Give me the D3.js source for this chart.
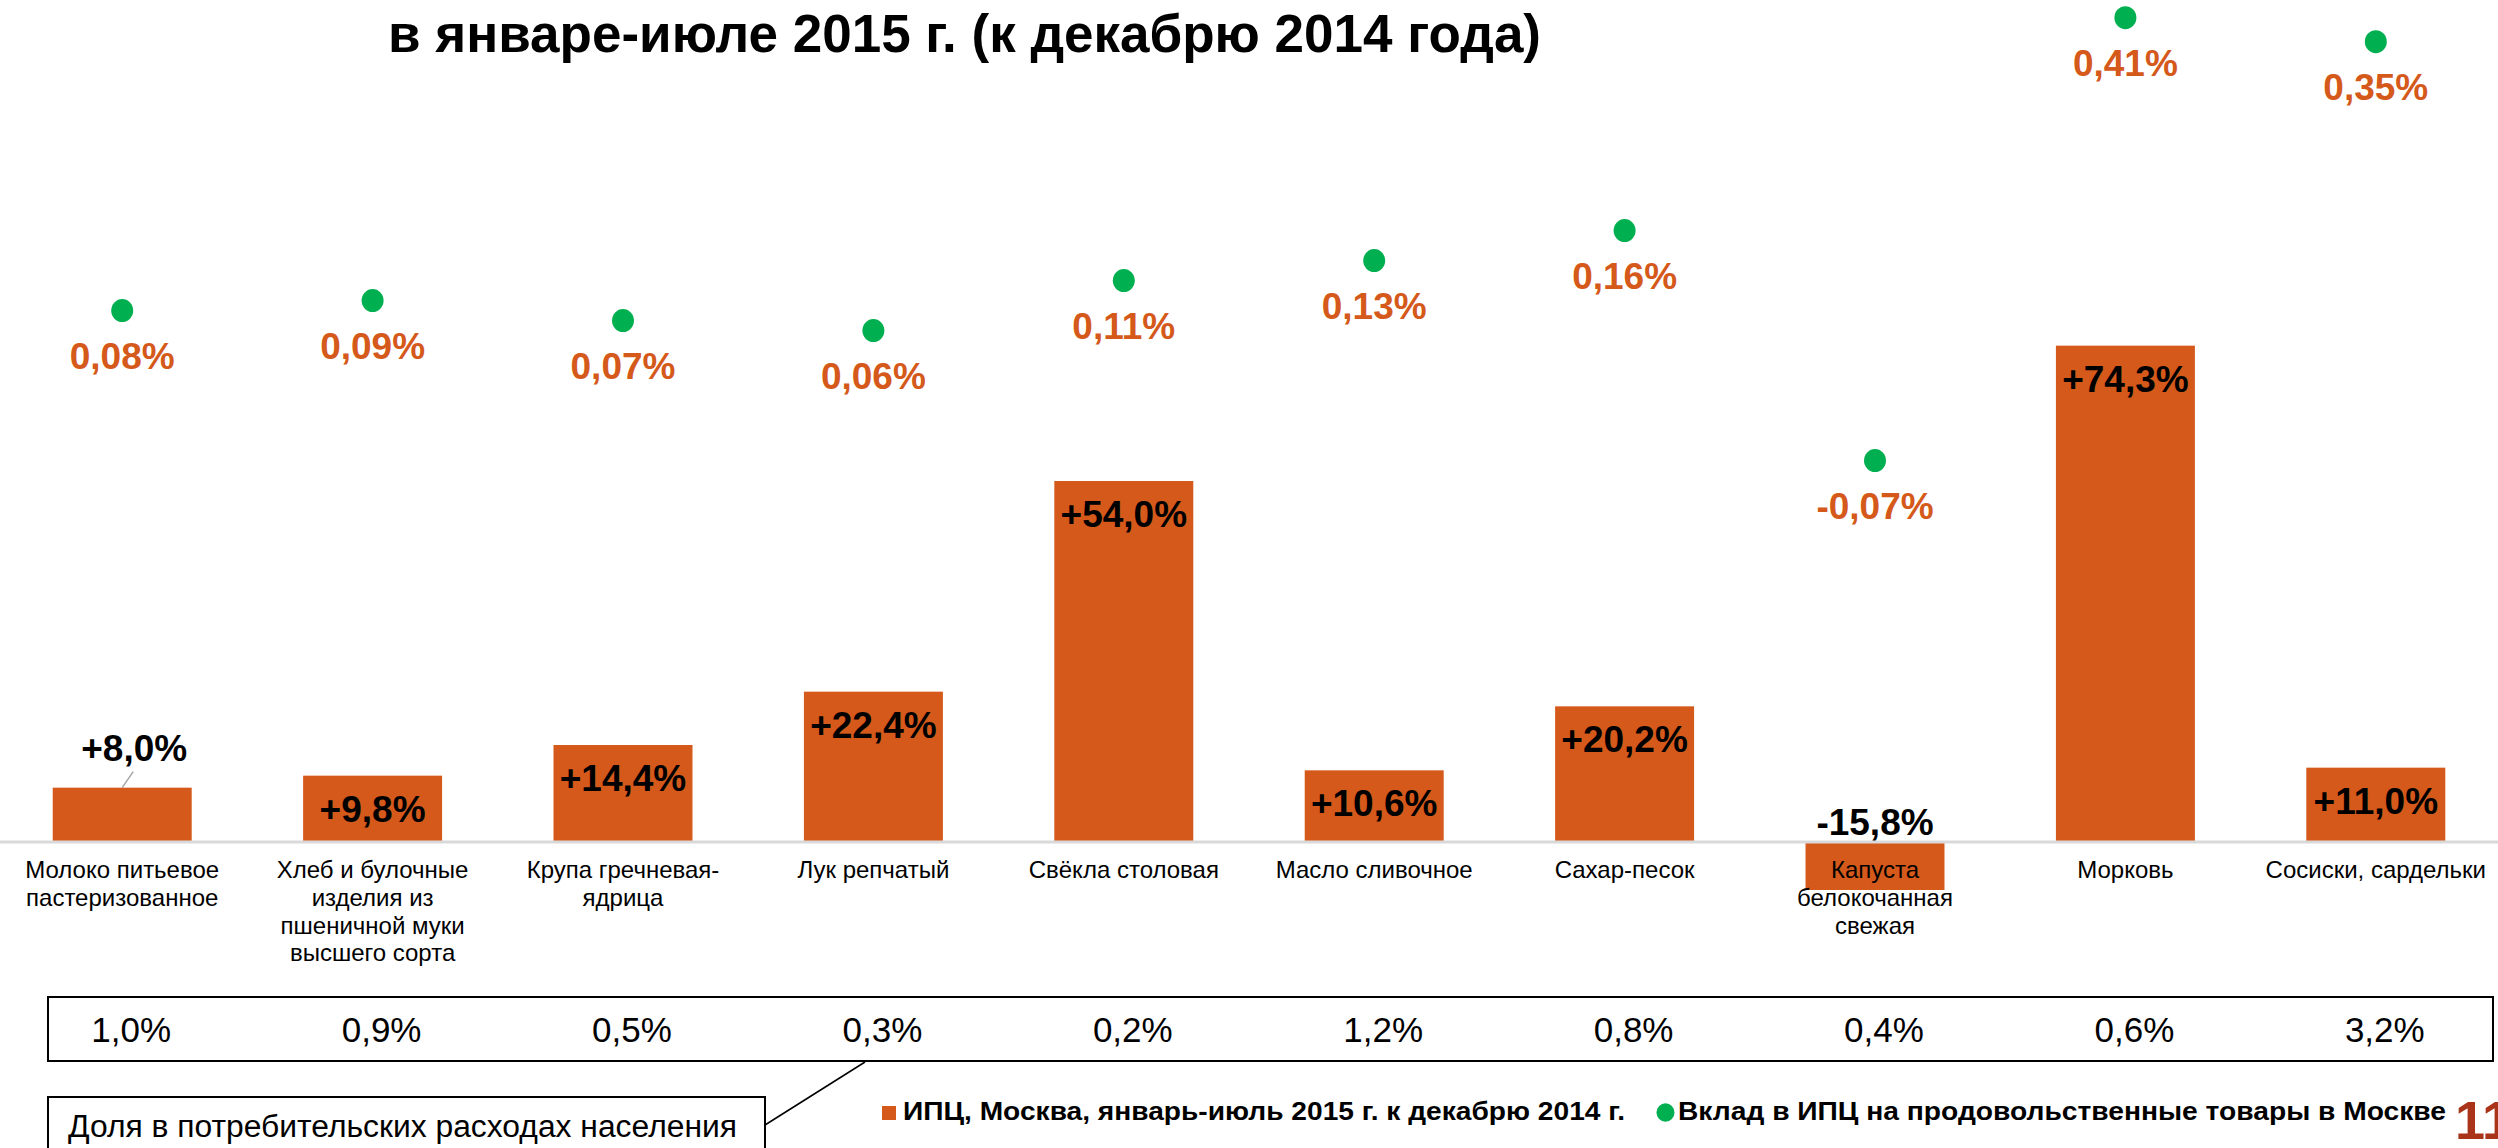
<!DOCTYPE html>
<html>
<head>
<meta charset="utf-8">
<script src="https://cdn.jsdelivr.net/npm/d3@7"></script>
<style>
  html, body { margin: 0; padding: 0; background: #fff; }
  svg { display: block; font-family: "Liberation Sans", Arial, sans-serif; }
</style>
</head>
<body>
<div id="grafico"></div>
<script>
// Data
var categories = [
  ["Молоко питьевое", "пастеризованное"],
  ["Хлеб и булочные", "изделия из", "пшеничной муки", "высшего сорта"],
  ["Крупа гречневая-", "ядрица"],
  ["Лук репчатый"],
  ["Свёкла столовая"],
  ["Масло сливочное"],
  ["Сахар-песок"],
  ["Капуста", "белокочанная", "свежая"],
  ["Морковь"],
  ["Сосиски, сардельки"]
];
var cpiChange = [8.0, 9.8, 14.4, 22.4, 54.0, 10.6, 20.2, -15.8, 74.3, 11.0];
var contribution = [0.08, 0.09, 0.07, 0.06, 0.11, 0.13, 0.16, -0.07, 0.41, 0.35];
var expenseShare = [1.0, 0.9, 0.5, 0.3, 0.2, 1.2, 0.8, 0.4, 0.6, 3.2];

var titleText = "в январе-июле 2015 г. (к декабрю 2014 года)";
var legendBars = "ИПЦ, Москва, январь-июль 2015 г. к декабрю 2014 г.";
var legendDots = "Вклад в ИПЦ на продовольственные товары в Москве";
var noteText = "Доля в потребительских расходах населения";
var pageNumber = "11";

var fmt = function(v, digits) { return v.toFixed(digits).replace(".", ","); };

var width = 2498, height = 1148;
var orange = "#d4591a", green = "#00b050";

var svg = d3.select("#grafico")
  .append("svg")
    .attr("width", width)
    .attr("height", height);

svg.append("rect").attr("width", width).attr("height", height).attr("fill", "#fff");

// Scales
var x = d3.scaleBand()
  .domain(d3.range(categories.length))
  .range([-3, 2501])
  .paddingInner(0.445)
  .paddingOuter(0.2225);

var y = d3.scaleLinear()
  .domain([-7.35, 75])
  .range([890, 341])
  .clamp(true);

// secondary scale for contributions, with a break for the two large values
var y2 = d3.scaleLinear()
  .domain([0, 0.2, 0.3, 0.5])
  .range([390.6, 190.6, 61.7, -18.3]);

var cx = function(i) { return x(i) + x.bandwidth() / 2; };

// Title
svg.append("text")
  .attr("x", 964.5)
  .attr("y", 52)
  .attr("text-anchor", "middle")
  .attr("textLength", 1153)
  .attr("lengthAdjust", "spacingAndGlyphs")
  .style("font-size", "53px")
  .style("font-weight", "bold")
  .text(titleText);

// Bars
svg.append("g")
  .selectAll("rect")
  .data(cpiChange)
  .enter()
  .append("rect")
    .attr("x", function(d, i) { return x(i); })
    .attr("y", function(d) { return Math.min(y(d), y(0)); })
    .attr("width", x.bandwidth())
    .attr("height", function(d) { return Math.abs(y(d) - y(0)); })
    .attr("fill", orange);

// Zero line
svg.append("line")
  .attr("x1", 0).attr("x2", width)
  .attr("y1", y(0) + 1).attr("y2", y(0) + 1)
  .attr("stroke", "#d9d9d9")
  .attr("stroke-width", 3);

// Bar labels
var barLabels = svg.append("g")
  .style("font-size", "37px")
  .style("font-weight", "bold")
  .attr("text-anchor", "middle");

cpiChange.forEach(function(d, i) {
  var txt = (d > 0 ? "+" : "") + fmt(d, 1) + "%";
  var h = y(0) - y(d);
  if (d < 0) {
    barLabels.append("text").attr("x", cx(i)).attr("y", y(0) - 6).text(txt);
  } else if (h < 60) {
    barLabels.append("text").attr("x", cx(i) + 12).attr("y", y(d) - 27).text(txt);
    svg.append("line")
      .attr("x1", cx(i) + 11).attr("y1", y(d) - 16)
      .attr("x2", cx(i)).attr("y2", y(d))
      .attr("stroke", "#a6a6a6")
      .attr("stroke-width", 1.5);
  } else {
    barLabels.append("text").attr("x", cx(i)).attr("y", y(d) + 46).text(txt);
  }
});

// Category labels
var catLabels = svg.append("g")
  .style("font-size", "24px")
  .attr("text-anchor", "middle");

categories.forEach(function(lines, i) {
  var t = catLabels.append("text").attr("x", cx(i)).attr("y", 878);
  lines.forEach(function(line, j) {
    t.append("tspan")
      .attr("x", cx(i))
      .attr("dy", j === 0 ? 0 : 27.8)
      .text(line);
  });
});

// Contribution dots
svg.append("g")
  .selectAll("ellipse")
  .data(contribution)
  .enter()
  .append("ellipse")
    .attr("cx", function(d, i) { return cx(i); })
    .attr("cy", function(d) { return y2(d); })
    .attr("rx", 11)
    .attr("ry", 11.5)
    .attr("fill", green);

svg.append("g")
  .selectAll("text")
  .data(contribution)
  .enter()
  .append("text")
    .attr("x", function(d, i) { return cx(i); })
    .attr("y", function(d) { return y2(d) + 58; })
    .attr("text-anchor", "middle")
    .style("font-size", "37px")
    .style("font-weight", "bold")
    .style("fill", orange)
    .text(function(d) { return fmt(d, 2) + "%"; });

// Share of consumer spending
svg.append("rect")
  .attr("x", 48).attr("y", 997)
  .attr("width", 2445).attr("height", 64)
  .attr("fill", "none")
  .attr("stroke", "#000")
  .attr("stroke-width", 2);

svg.append("g")
  .selectAll("text")
  .data(expenseShare)
  .enter()
  .append("text")
    .attr("x", function(d, i) { return cx(i) + 9; })
    .attr("y", 1042)
    .attr("text-anchor", "middle")
    .style("font-size", "35px")
    .text(function(d) { return fmt(d, 1) + "%"; });

// Note box with connector
svg.append("rect")
  .attr("x", 48).attr("y", 1097)
  .attr("width", 717).attr("height", 80)
  .attr("fill", "#fff")
  .attr("stroke", "#000")
  .attr("stroke-width", 2);

svg.append("text")
  .attr("x", 68).attr("y", 1137)
  .attr("textLength", 669)
  .attr("lengthAdjust", "spacingAndGlyphs")
  .style("font-size", "31px")
  .text(noteText);

svg.append("line")
  .attr("x1", 765).attr("y1", 1125)
  .attr("x2", 865).attr("y2", 1062)
  .attr("stroke", "#000")
  .attr("stroke-width", 1.5);

// Legend
svg.append("rect")
  .attr("x", 882).attr("y", 1106)
  .attr("width", 14).attr("height", 14)
  .attr("fill", orange);
svg.append("text")
  .attr("x", 903).attr("y", 1120)
  .attr("textLength", 722)
  .attr("lengthAdjust", "spacingAndGlyphs")
  .style("font-size", "26px")
  .style("font-weight", "bold")
  .text(legendBars);

svg.append("ellipse")
  .attr("cx", 1665.5).attr("cy", 1112.5)
  .attr("rx", 9).attr("ry", 9.3)
  .attr("fill", green);
svg.append("text")
  .attr("x", 1678).attr("y", 1120)
  .attr("textLength", 768)
  .attr("lengthAdjust", "spacingAndGlyphs")
  .style("font-size", "26px")
  .style("font-weight", "bold")
  .text(legendDots);

// Page number (cut at the slide edge, as in the source)
svg.append("text")
  .attr("x", 2455).attr("y", 1139)
  .style("font-size", "54px")
  .style("font-weight", "bold")
  .style("fill", "#a9341a")
  .text(pageNumber);
</script>
</body>
</html>
